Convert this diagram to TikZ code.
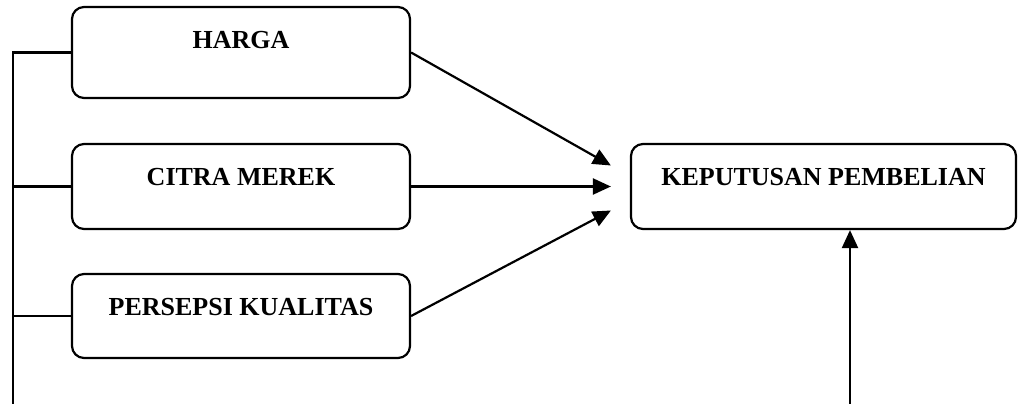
\documentclass[tikz,border=0pt]{standalone}
\usepackage{fontspec}
\setmainfont{Liberation Serif}
\usetikzlibrary{arrows.meta}

\tikzset{
  varbox/.style={draw, line width=2.2pt, rounded corners=12pt, inner sep=0pt,
    minimum width=338pt, text height=41pt,
    font=\fontsize{26}{30}\selectfont\bfseries},
  flow/.style={line width=2.2pt, -{Triangle[length=18pt,width=16pt]}}
}

\begin{document}
\begin{tikzpicture}[x=1pt,y=-1pt]
\useasboundingbox (0,0) rectangle (1018,404);
%\draw[step=20,gray,very thin] (0,0) grid (1018,404);

\node[varbox, text height=42pt, text depth=49pt] (harga)    at (241,52.5)  {HARGA};
\node[varbox, text depth=44pt]                   (citra)    at (241,186.5) {CITRA MEREK};
\node[varbox, text depth=43pt]                   (persepsi) at (241,316)   {PERSEPSI KUALITAS};
\node[varbox, minimum width=385pt, text depth=44pt] (keputusan) at (823.5,186.5) {KEPUTUSAN PEMBELIAN};

\coordinate (kiri)  at (13,404);
\coordinate (bawah) at (850,404);

% garis di kiri
\draw[line width=2.2pt] (harga.west) -| (kiri);
\draw[line width=2.2pt] (citra.west) -- (citra.west -| kiri);
\draw[line width=2.2pt] (persepsi.west) -- (persepsi.west -| kiri);

% panah ke keputusan
\draw[flow] (harga.east)    -- ([xshift=-19pt,yshift=21pt]keputusan.west);
\draw[flow] (citra.east)    -- ([xshift=-19pt]keputusan.west);
\draw[flow] (persepsi.east) -- ([xshift=-19pt,yshift=-24pt]keputusan.west);
\draw[flow] (bawah) -- (keputusan.south -| bawah);

\end{tikzpicture}
\end{document}
